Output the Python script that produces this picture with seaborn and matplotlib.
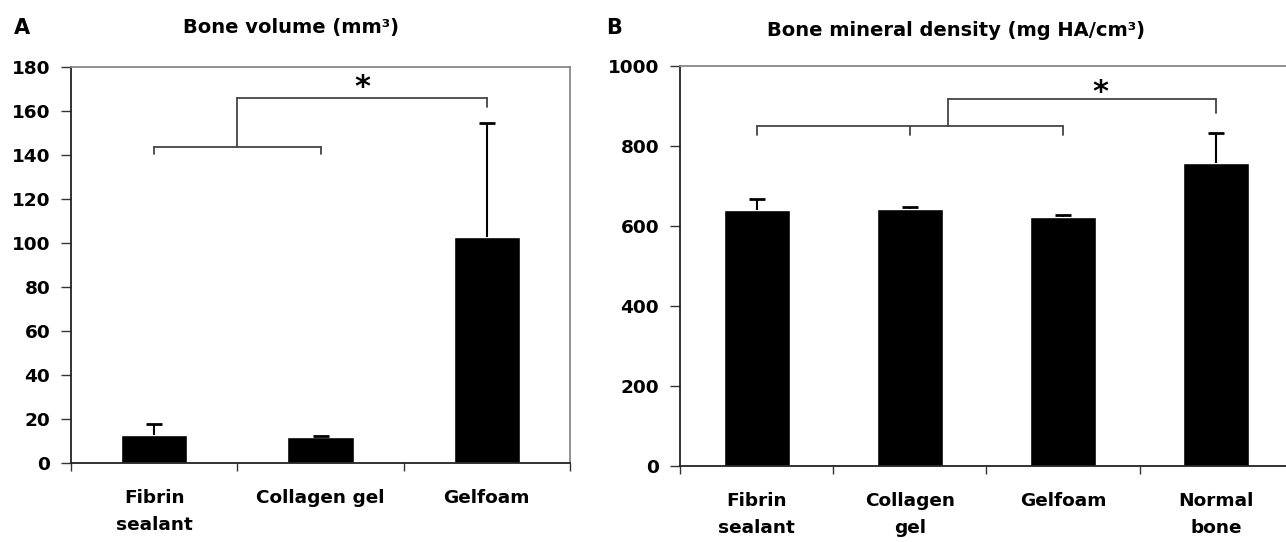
import numpy as np
import pandas as pd
import seaborn as sns
import matplotlib.pyplot as plt

# Datos
vol_groups = ["Fibrin\nsealant", "Collagen gel", "Gelfoam"]
vol_mean = [12.5, 11.6, 102.7]
vol_sd = [5.2, 0.7, 51.6]

bmd_groups = ["Fibrin\nsealant", "Collagen\ngel", "Gelfoam", "Normal\nbone"]
bmd_mean = [639, 643, 621, 756]
bmd_sd = [27, 5, 5, 76]

sns.set_style("white")
plt.rcParams['font.family'] = ['DejaVu Sans']
plt.rcParams['font.weight'] = 'bold'
plt.rcParams['text.color'] = 'black'
plt.rcParams['xtick.color'] = 'black'
plt.rcParams['ytick.color'] = 'black'

W, H = 1286, 542
fig = plt.figure(figsize=(W / 100, H / 100), dpi=100)


def px_axes(left, top, right, bottom):
    return fig.add_axes([left / W, 1 - bottom / H, (right - left) / W, (bottom - top) / H])


def draw_panel(ax, groups, means, sds, ymax, yticks, width):
    df = pd.DataFrame({"group": groups, "value": means})
    sns.barplot(data=df, x="group", y="value", color="black", width=width,
                saturation=1, ax=ax, errorbar=None)
    x = np.arange(len(groups))
    eb = ax.errorbar(x, means, yerr=[np.zeros(len(sds)), sds], fmt="none",
                     ecolor="black", elinewidth=1.5, capsize=6, capthick=2)
    # solo la barra de error superior
    eb[1][0].set_visible(False)
    ax.set_xlim(-0.5, len(groups) - 0.5)
    ax.set_ylim(0, ymax)
    ax.set_yticks(yticks)
    ax.set_xticks(np.arange(len(groups) + 1) - 0.5, minor=True)
    ax.set_xticks(x)
    ax.set_xticklabels(groups, fontsize=13.3, fontweight="bold", linespacing=1.65)
    ax.set_yticklabels([str(v) for v in yticks], fontsize=13.3, fontweight="bold")
    ax.set_xlabel("")
    ax.set_ylabel("")
    ax.tick_params(axis="x", which="major", length=0, pad=19)
    ax.tick_params(axis="x", which="minor", length=6, width=1, color="#333333",
                   direction="out", bottom=True)
    ax.tick_params(axis="y", length=7, width=1, color="#333333", direction="out",
                   left=True, pad=8)
    for s in ["left", "bottom"]:
        ax.spines[s].set_color("#222222")
        ax.spines[s].set_linewidth(1.3)
    for s in ["top", "right"]:
        ax.spines[s].set_color("#888888")
        ax.spines[s].set_linewidth(1.3)
    ax.set_facecolor("white")


def bracket(ax, x0, x1, y, drop, ticks=(), color="#444444"):
    ax.plot([x0, x1], [y, y], color=color, lw=1.3)
    for t in (x0, x1) + tuple(ticks):
        ax.plot([t, t], [y, y - drop], color=color, lw=1.3)


# Panel A
axA = px_axes(71, 66.7, 570, 462.7)
draw_panel(axA, vol_groups, vol_mean, vol_sd, 180, list(range(0, 181, 20)), 0.4)
bracket(axA, 0, 1, 143.4, 3)
axA.plot([0.5, 0.5], [143.4, 165.9], color="#444444", lw=1.3)
axA.plot([0.5, 2], [165.9, 165.9], color="#444444", lw=1.3)
axA.plot([2, 2], [165.9, 161.8], color="#444444", lw=1.3)
axA.text(1.25, 170.5, "*", ha="center", va="center", fontsize=22, fontweight="bold")

# Panel B
axB = px_axes(680, 65.7, 1293, 465.7)
draw_panel(axB, bmd_groups, bmd_mean, bmd_sd, 1000, list(range(0, 1001, 200)), 0.43)
bracket(axB, 0, 2, 848, 21, ticks=(1,))
axB.plot([1.25, 1.25], [848, 917], color="#444444", lw=1.3)
axB.plot([1.25, 3], [917, 917], color="#444444", lw=1.3)
axB.plot([3, 3], [917, 881], color="#444444", lw=1.3)
axB.text(2.24, 933, "*", ha="center", va="center", fontsize=22, fontweight="bold")

# Títulos y letras de panel
fig.text(291 / W, 1 - 28 / H, "Bone volume (mm³)", ha="center", va="center",
         fontsize=14, fontweight="bold")
fig.text(956 / W, 1 - 30 / H, "Bone mineral density (mg HA/cm³)", ha="center",
         va="center", fontsize=14, fontweight="bold")
fig.text(14 / W, 1 - 28 / H, "A", ha="left", va="center", fontsize=15, fontweight="bold")
fig.text(606 / W, 1 - 28 / H, "B", ha="left", va="center", fontsize=15, fontweight="bold")

fig.savefig("out.png", dpi=100, facecolor="white")
